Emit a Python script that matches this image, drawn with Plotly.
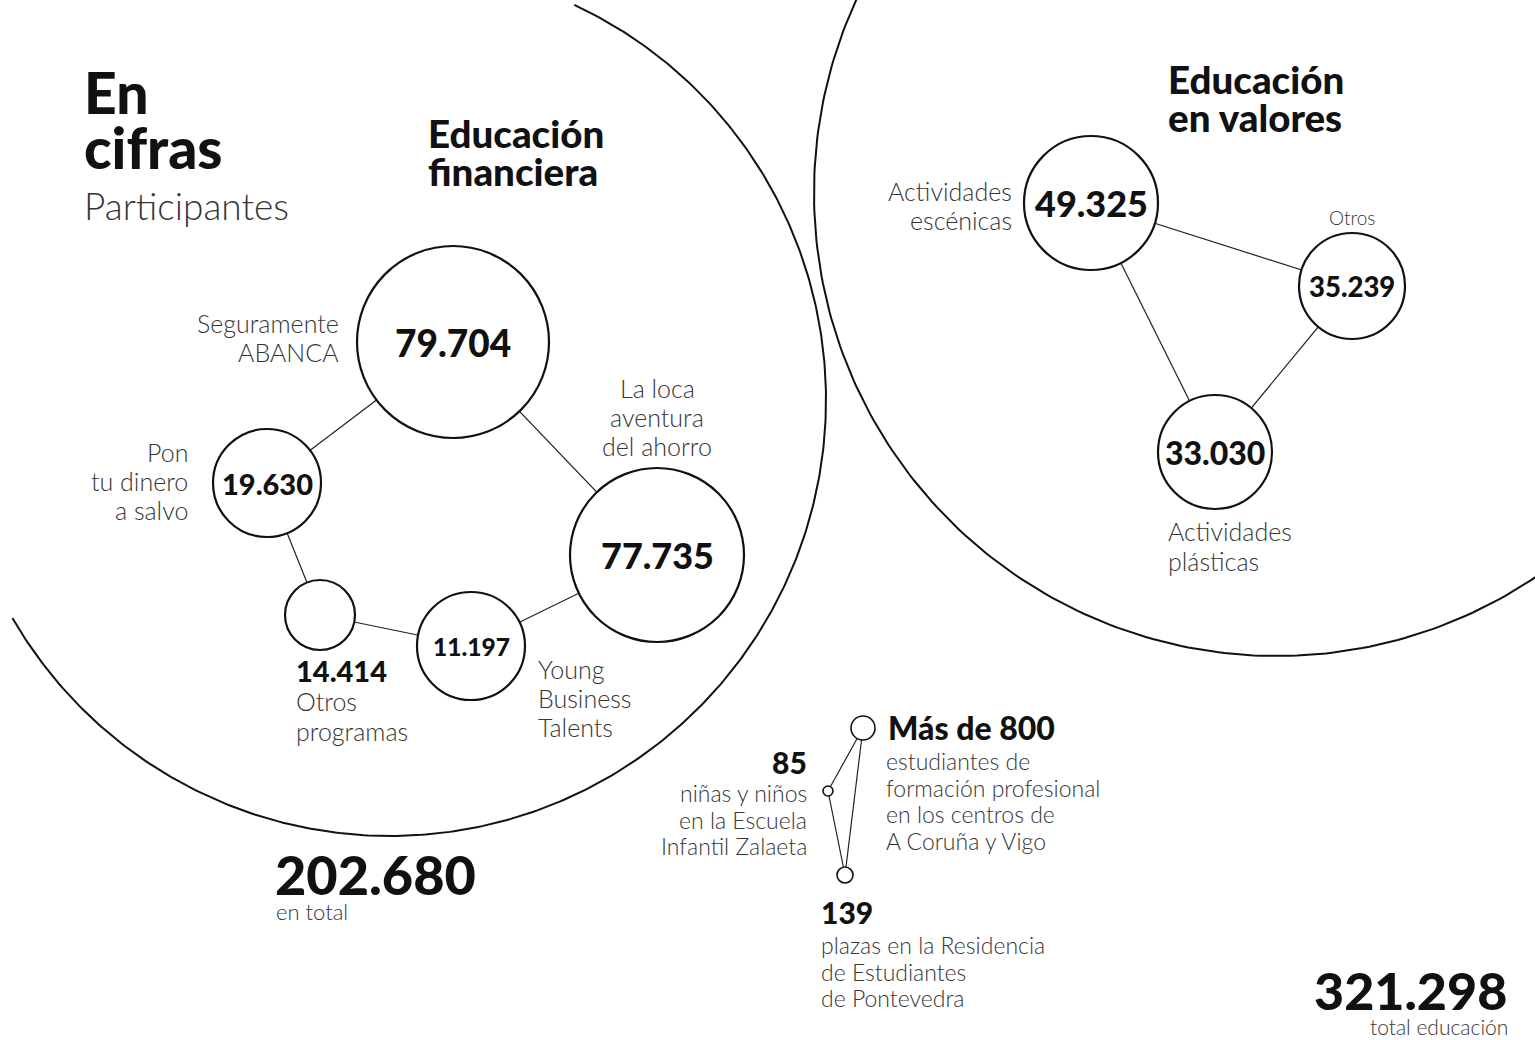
import numpy as np
import plotly.graph_objects as go

# ---------------- data ----------------
fin_labels = ["Seguramente\nABANCA", "La loca\naventura\ndel ahorro", "Pon\ntu dinero\na salvo",
              "Otros\nprogramas", "Young\nBusiness\nTalents"]
fin_values = [79704, 77735, 19630, 14414, 11197]

val_labels = ["Actividades\nescénicas", "Otros", "Actividades\nplásticas"]
val_values = [49325, 35239, 33030]

oth_labels = ["estudiantes de\nformación profesional\nen los centros de\nA Coruña y Vigo",
              "niñas y niños\nen la Escuela\nInfantil Zalaeta",
              "plazas en la Residencia\nde Estudiantes\nde Pontevedra"]
oth_values = [800, 85, 139]

title_lines = ["En", "cifras"]
subtitle = "Participantes"
group_titles = ["Educación\nfinanciera", "Educación\nen valores"]
total_texts = ["en total", "total educación"]


def fmt(v):
    return f"{v:,}".replace(",", ".")


fin_total = sum(fin_values)
grand_total = fin_total + sum(val_values) + sum(oth_values)

# ---------------- layout (positions / sizes) ----------------
W, H = 1535, 1040
BLACK = "#111111"
GREY = "#353535"
FONT_HEAVY = "Lato Black, Lato"
FONT_LIGHT = "Lato Light, Lato"

# group outlines: centre x, centre y, radius, start angle, end angle (deg, screen coords)
group_arcs = [(390, 400, 436, -65, 150), (1277, 193, 463, 0, 360)]

fin_pos = [(453, 342), (657, 555), (267, 483), (320, 615), (471, 646)]
fin_rad = [96, 87, 54, 35, 54]
fin_num_size = [37, 36, 29, 0, 24.5]
fin_edges = [(0, 2), (0, 1), (2, 3), (3, 4), (4, 1)]

val_pos = [(1091, 203), (1352, 286), (1215, 452)]
val_rad = [67, 53, 57]
val_num_size = [36, 27.5, 32]
val_edges = [(0, 1), (0, 2), (1, 2)]

oth_pos = [(863, 728), (828, 791), (845, 875)]
oth_rad = [12, 5, 8]
oth_edges = [(0, 1), (0, 2), (1, 2)]

fig = go.Figure()

# big group outlines
for cx, cy, r, a0, a1 in group_arcs:
    t = np.radians(np.linspace(a0, a1, 400))
    fig.add_trace(go.Scatter(x=cx + r * np.cos(t), y=cy + r * np.sin(t), mode="lines",
                             line=dict(color=BLACK, width=2), hoverinfo="skip", showlegend=False))

# connecting lines
lx, ly = [], []
for pos, edges in [(fin_pos, fin_edges), (val_pos, val_edges), (oth_pos, oth_edges)]:
    for a, b in edges:
        lx += [pos[a][0], pos[b][0], None]
        ly += [pos[a][1], pos[b][1], None]
fig.add_trace(go.Scatter(x=lx, y=ly, mode="lines", line=dict(color="#222222", width=1.2),
                         hoverinfo="skip", showlegend=False))

# bubbles
for pos, rad, vals, lw in [(fin_pos, fin_rad, fin_values, 2.2), (val_pos, val_rad, val_values, 2.2),
                           (oth_pos, oth_rad, oth_values, 1.6)]:
    fig.add_trace(go.Scatter(
        x=[p[0] for p in pos], y=[p[1] for p in pos], mode="markers",
        marker=dict(size=[2 * r for r in rad], color="white", line=dict(color=BLACK, width=lw), opacity=1),
        customdata=vals, hovertemplate="%{customdata}<extra></extra>", showlegend=False))

ann = []


def text(lines, x, y, size, weight=300, anchor="left", color=GREY, pitch=None):
    if isinstance(lines, str):
        lines = lines.split("\n")
    pitch = pitch or size * 1.25
    fam = FONT_HEAVY if weight >= 700 else FONT_LIGHT
    for i, t in enumerate(lines):
        ann.append(dict(x=x, y=y + i * pitch, xref="x", yref="y", text=t, showarrow=False,
                        xanchor=anchor, yanchor="middle",
                        font=dict(family=fam, size=size, color=color, weight=weight)))


# titles
text(title_lines, 82, 92, 57, 900, color=BLACK, pitch=55)
text(subtitle, 82, 205, 37, 300, color=GREY)
text(group_titles[0], 426, 133, 38.5, 900, color=BLACK, pitch=38)
text(group_titles[1], 1166, 79, 38.5, 900, color=BLACK, pitch=38)

# financial numbers in bubbles
for i, (p, s) in enumerate(zip(fin_pos, fin_num_size)):
    if s:
        text(fmt(fin_values[i]), p[0], p[1], s, 900, anchor="center", color=BLACK)
text(fmt(fin_values[3]), 294, 670, 29, 900, color=BLACK)

# financial labels
text(fin_labels[0], 341, 323, 25, anchor="right", pitch=29)
text(fin_labels[1], 657, 388, 25, anchor="center", pitch=29)
text(fin_labels[2], 190, 452, 25, anchor="right", pitch=29)
text(fin_labels[3], 294, 701, 25, anchor="left", pitch=30)
text(fin_labels[4], 536, 669, 25, anchor="left", pitch=29)

# values group
for i, (p, s) in enumerate(zip(val_pos, val_num_size)):
    text(fmt(val_values[i]), p[0], p[1], s, 900, anchor="center", color=BLACK)
text(val_labels[0], 1014, 191, 25, anchor="right", pitch=29)
text(val_labels[1], 1352, 217, 19, anchor="center")
text(val_labels[2], 1166, 531, 25, anchor="left", pitch=30)

# other programmes
text("Más de " + fmt(oth_values[0]), 886, 727, 32, 900, color=BLACK)
text(oth_labels[0], 884, 761, 23, anchor="left", pitch=26.7)
text(fmt(oth_values[1]), 809, 762, 30, 900, anchor="right", color=BLACK)
text(oth_labels[1], 809, 793, 23, anchor="right", pitch=26.7)
text(fmt(oth_values[2]), 819, 912, 30, 900, color=BLACK)
text(oth_labels[2], 819, 945, 23, anchor="left", pitch=26.7)

# totals
text(fmt(fin_total), 273, 874, 54, 900, color=BLACK)
text(total_texts[0], 274, 911, 22)
text(fmt(grand_total), 1509, 990, 52, 900, anchor="right", color=BLACK)
text(total_texts[1], 1510, 1026, 21, anchor="right")

fig.update_layout(
    width=W, height=H, margin=dict(l=0, r=0, t=0, b=0),
    paper_bgcolor="white", plot_bgcolor="white",
    xaxis=dict(range=[0, W], visible=False, fixedrange=True),
    yaxis=dict(range=[H, 0], visible=False, fixedrange=True),
    annotations=ann, showlegend=False,
)

fig.write_html("out.html", post_script="document.body.style.margin='0';",
               config={"displayModeBar": False})
